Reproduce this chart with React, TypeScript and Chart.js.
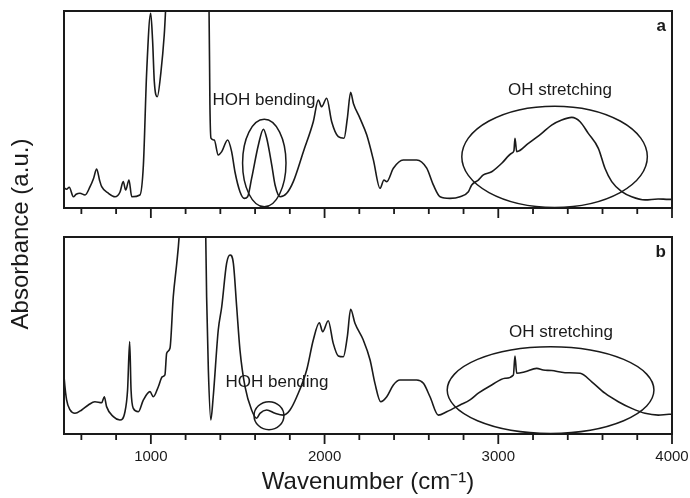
import React, { useEffect, useRef } from "react";
import { Chart, registerables } from "chart.js";

Chart.register(...registerables);

// ---------- data (wavenumber, absorbance a.u.) ----------
const WAVE_A = [500, 515, 530, 554, 570, 592, 621, 650, 670, 688, 705, 717, 755, 794, 822, 841, 855, 874, 890, 937, 957, 976, 999, 1010, 1020, 1037, 1058, 1077, 1095, 1200, 1320, 1335, 1340, 1346, 1365, 1388, 1408, 1442, 1465, 1484, 1513, 1538, 1557, 1580, 1619, 1648, 1667, 1696, 1715, 1744, 1782, 1820, 1878, 1935, 1964, 1983, 2012, 2041, 2079, 2112, 2131, 2150, 2166, 2204, 2243, 2281, 2319, 2342, 2358, 2396, 2453, 2530, 2588, 2626, 2665, 2722, 2780, 2828, 2847, 2885, 2914, 2962, 3020, 3077, 3090, 3096, 3106, 3173, 3250, 3307, 3365, 3423, 3471, 3518, 3576, 3614, 3653, 3711, 3768, 3845, 3920, 3980, 4000];
const ABS_A = [10.3, 9.5, 10.5, 5.7, 7, 7.5, 6.6, 10.8, 15, 19.8, 14, 10.8, 7.5, 5.7, 8, 13.4, 9.1, 14.2, 5.7, 6.6, 21.8, 69.2, 98.8, 85, 64, 56.5, 69, 87.8, 115, 140, 115, 100, 52.3, 35.5, 34.5, 26.9, 28.6, 34.5, 28.6, 18.4, 8.3, 4.9, 5.7, 15, 32, 40, 35.4, 21.8, 11.7, 5.7, 7.5, 13.4, 28.6, 43.8, 54.8, 51.4, 55.7, 43.8, 36.2, 35.4, 45.5, 58.7, 53.1, 45.5, 37, 24.4, 10, 14.2, 13.4, 20.2, 24.4, 24.4, 20.2, 11.7, 5.7, 4.9, 5.7, 8.3, 11.7, 14.2, 16.8, 18.4, 22.7, 27.8, 29, 35.4, 28.6, 32.8, 37.9, 42.1, 44.7, 46, 43.8, 37.9, 30.3, 20.2, 13.4, 8.3, 5.7, 4.1, 4.6, 4.4, 4.4];

const WAVE_B = [500, 502, 515, 535, 563, 602, 640, 678, 717, 732, 745, 784, 822, 851, 866, 878, 886, 899, 928, 957, 995, 1014, 1043, 1066, 1081, 1091, 1110, 1129, 1149, 1162, 1180, 1250, 1300, 1316, 1321, 1331, 1345, 1359, 1388, 1408, 1436, 1456, 1475, 1494, 1513, 1542, 1580, 1609, 1628, 1667, 1715, 1763, 1801, 1840, 1897, 1935, 1970, 1989, 2021, 2050, 2079, 2108, 2131, 2150, 2175, 2223, 2262, 2290, 2323, 2358, 2396, 2434, 2530, 2569, 2607, 2655, 2703, 2780, 2837, 2885, 2962, 3039, 3087, 3096, 3106, 3154, 3221, 3259, 3307, 3384, 3471, 3538, 3614, 3691, 3768, 3845, 3921, 3983, 4000];
const ABS_B = [30, 27.4, 17.3, 12.2, 10.5, 12.2, 14.7, 16.4, 15.9, 18.9, 13.9, 8.8, 7.1, 11.3, 22.3, 46.9, 22.3, 13, 11.3, 17.3, 21.5, 18.9, 24, 29.1, 30, 41, 43.5, 69.7, 86.6, 99.3, 130, 150, 130, 100, 69.7, 32.5, 7.1, 18.9, 52.8, 64.6, 86.6, 90.9, 86.6, 64.6, 42.6, 24, 12.2, 8, 10.5, 12.2, 10.5, 9.6, 12.2, 18.9, 32.5, 47.7, 56.5, 51.9, 57.5, 46, 39.6, 39.2, 49.4, 63.3, 56.2, 47.7, 37.6, 25.7, 16.4, 18.9, 24.9, 27.4, 27.4, 25.7, 18.9, 9.6, 11.3, 14.7, 17.3, 20.7, 24.9, 28.3, 30, 39.6, 30.8, 31.6, 33.3, 32.5, 32.2, 31.1, 30.8, 26.5, 20.7, 16.4, 13, 10.5, 9.6, 10, 10];

const X_MIN = 500;
const X_MAX = 4000;
const X_TICKS = [1000, 2000, 3000, 4000];
const MINOR_TICKS = [600, 800, 1200, 1400, 1600, 1800, 2200, 2400, 2600, 2800, 3200, 3400, 3600, 3800];

// annotation ellipses: centre wavenumber, centre absorbance, half-width, half-height (data units)
const ELLIPSES_A = [
  [1653, 22.8, 125, 22.2],
  [3324, 26, 534, 25.7],
];
const ELLIPSES_B = [
  [1680, 9.3, 86, 7.1],
  [3301, 22.3, 595, 22],
];
// annotation texts: text, wavenumber, absorbance
const LABELS_A = [
  ["HOH bending", 1651, 54.8],
  ["OH stretching", 3355, 59.9],
];
const LABELS_B = [
  ["HOH bending", 1726, 26.4],
  ["OH stretching", 3361, 51.8],
];
const PANEL_TAGS = ["a", "b"];

const X_TITLE = "Wavenumber (cm\u207B\u00B9)";
const Y_TITLE = "Absorbance (a.u.)";

const INK = "#1a1a1a";
const FONT = "'Liberation Sans', Arial, Helvetica, sans-serif";

function toPoints(xs: number[], ys: number[]) {
  return xs.map((x, i) => ({ x, y: ys[i] }));
}

function decoPlugin(ellipses: number[][], labels: any[][], tag: string, drawYTitle: boolean) {
  return {
    id: "deco",
    afterDraw(chart: any) {
      const { ctx, chartArea: ca, scales } = chart;
      const xs = scales.x;
      const ys = scales.y;
      ctx.save();
      ctx.strokeStyle = INK;
      ctx.fillStyle = INK;
      // frame
      ctx.lineWidth = 2;
      ctx.strokeRect(ca.left, ca.top, ca.right - ca.left, ca.bottom - ca.top);
      // tick marks
      ctx.lineWidth = 1.8;
      ctx.beginPath();
      for (const v of MINOR_TICKS) {
        const px = xs.getPixelForValue(v);
        ctx.moveTo(px, ca.bottom);
        ctx.lineTo(px, ca.bottom + 6);
      }
      for (const v of X_TICKS) {
        const px = xs.getPixelForValue(v);
        ctx.moveTo(px, ca.bottom);
        ctx.lineTo(px, ca.bottom + 10);
      }
      ctx.stroke();
      // ellipses
      ctx.lineWidth = 1.5;
      for (const [ex, ey, erx, ery] of ellipses) {
        const cx = xs.getPixelForValue(ex);
        const cy = ys.getPixelForValue(ey);
        const rx = Math.abs(xs.getPixelForValue(ex + erx) - cx);
        const ry = Math.abs(ys.getPixelForValue(ey + ery) - cy);
        ctx.beginPath();
        ctx.ellipse(cx, cy, rx, ry, 0, 0, Math.PI * 2);
        ctx.stroke();
      }
      // annotation texts
      ctx.font = `17px ${FONT}`;
      ctx.textAlign = "center";
      ctx.textBaseline = "middle";
      for (const [t, lx, ly] of labels) {
        ctx.fillText(t, xs.getPixelForValue(lx), ys.getPixelForValue(ly));
      }
      // panel tag
      ctx.font = `bold 17px ${FONT}`;
      ctx.textAlign = "right";
      ctx.textBaseline = "top";
      ctx.fillText(tag, ca.right - 6, ca.top + 7);
      // shared y title
      if (drawYTitle) {
        ctx.font = `24px ${FONT}`;
        ctx.textAlign = "center";
        ctx.textBaseline = "middle";
        ctx.translate(21, 234);
        ctx.rotate(-Math.PI / 2);
        ctx.fillText(Y_TITLE, 0, 0);
      }
      ctx.restore();
    },
  };
}

function baseOptions(padding: any, showAxis: boolean) {
  return {
    animation: false,
    responsive: false,
    maintainAspectRatio: false,
    events: [],
    layout: { padding },
    plugins: { legend: { display: false }, tooltip: { enabled: false } },
    elements: { point: { radius: 0 } },
    scales: {
      x: {
        type: "linear",
        min: X_MIN,
        max: X_MAX,
        display: showAxis,
        afterBuildTicks: (scale: any) => {
          scale.ticks = X_TICKS.map((v) => ({ value: v }));
        },
        afterFit: (scale: any) => {
          scale.height = showAxis ? 64 : 0;
          scale.paddingLeft = 0;
          scale.paddingRight = 0;
        },
        grid: { display: false, drawTicks: false },
        border: { display: false },
        ticks: {
          color: INK,
          font: { family: FONT, size: 15 },
          padding: 14,
          maxRotation: 0,
          autoSkip: false,
          callback: (v: any) => String(v),
        },
        title: {
          display: true,
          text: X_TITLE,
          color: INK,
          font: { family: FONT, size: 24 },
          padding: { top: 0, bottom: 1 },
        },
      },
      y: { min: 0, max: 100, display: false },
    },
  };
}

export default function App() {
  const refA = useRef<HTMLCanvasElement>(null);
  const refB = useRef<HTMLCanvasElement>(null);

  useEffect(() => {
    const ds = (xs: number[], ys: number[]) => ({
      data: toPoints(xs, ys),
      borderColor: INK,
      borderWidth: 1.6,
      pointRadius: 0,
      cubicInterpolationMode: "monotone",
      fill: false,
    });
    const chartA = new Chart(refA.current as HTMLCanvasElement, {
      type: "line",
      data: { datasets: [ds(WAVE_A, ABS_A) as any] },
      options: baseOptions({ left: 64, right: 18, top: 11, bottom: 290 }, false) as any,
      plugins: [decoPlugin(ELLIPSES_A, LABELS_A, PANEL_TAGS[0], false)],
    });
    const chartB = new Chart(refB.current as HTMLCanvasElement, {
      type: "line",
      data: { datasets: [ds(WAVE_B, ABS_B) as any] },
      options: baseOptions({ left: 64, right: 18, top: 237, bottom: 0 }, true) as any,
      plugins: [decoPlugin(ELLIPSES_B, LABELS_B, PANEL_TAGS[1], true)],
    });
    return () => {
      chartA.destroy();
      chartB.destroy();
    };
  }, []);

  const cs: React.CSSProperties = { position: "absolute", left: 0, top: 0, width: 690, height: 498 };
  return (
    <div style={{ position: "fixed", left: 0, top: 0, width: 690, height: 498, background: "#fff" }}>
      <canvas ref={refA} width={690} height={498} style={cs} />
      <canvas ref={refB} width={690} height={498} style={cs} />
    </div>
  );
}
